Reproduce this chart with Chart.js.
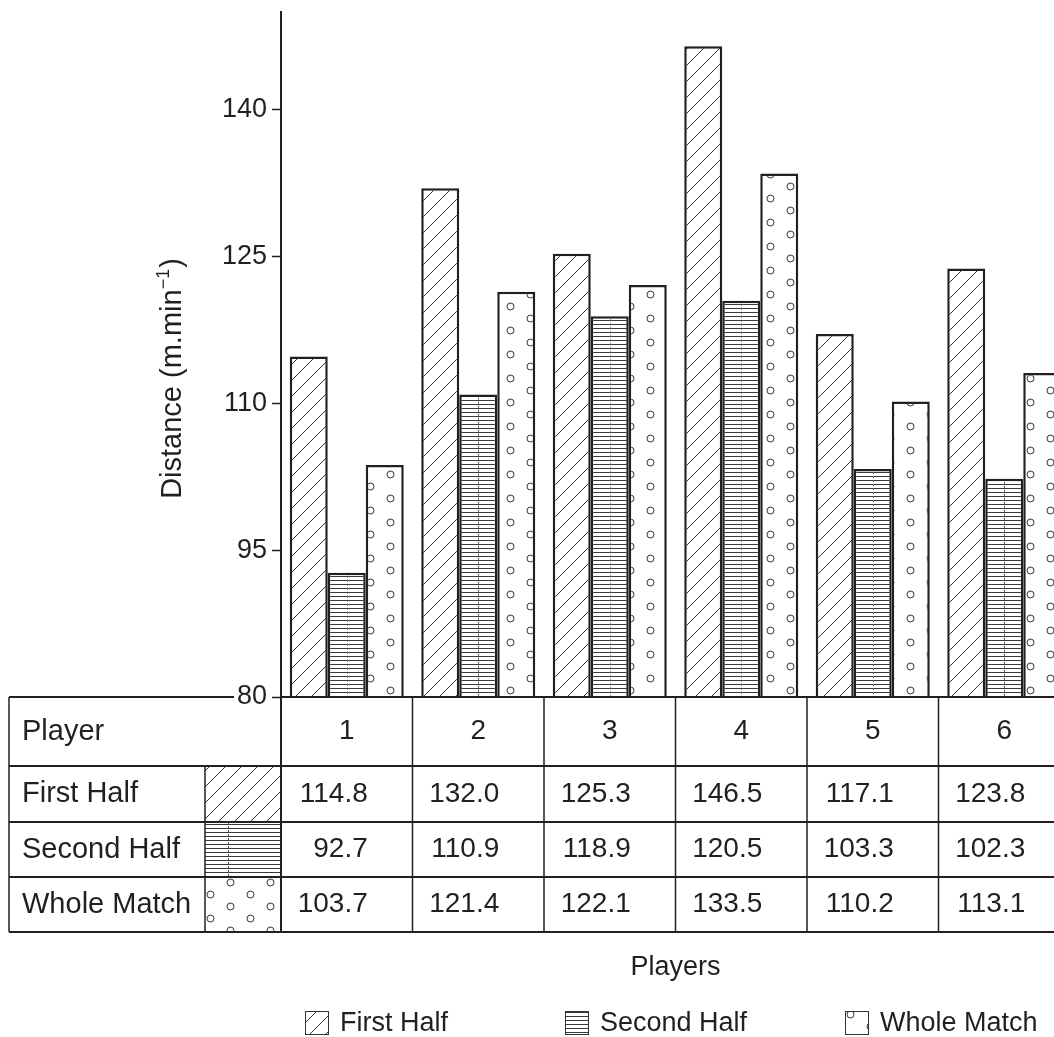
<!DOCTYPE html>
<html>
<head>
<meta charset="utf-8">
<script src="https://cdn.jsdelivr.net/npm/chart.js@4.4.0/dist/chart.umd.min.js"></script>
<style>
    html, body { margin: 0; padding: 0; background: #fff; overflow: hidden; }
    #wrap { width: 1070px; height: 1037px; }
</style>
</head>
<body>
<div id="wrap"><canvas id="distanceChart" width="1070" height="1037"></canvas></div>
<script>
const players = ['1', '2', '3', '4', '5', '6'];
const firstHalf = [114.8, 132.0, 125.3, 146.5, 117.1, 123.8];
const secondHalf = [92.7, 110.9, 118.9, 120.5, 103.3, 102.3];
const wholeMatch = [103.7, 121.4, 122.1, 133.5, 110.2, 113.1];
const seriesNames = ['First Half', 'Second Half', 'Whole Match'];
const yTicks = [80, 95, 110, 125, 140];

const INK = '#231f20';
const FONT = '"Liberation Sans", Arial, sans-serif';

// Build a repeating fill pattern for the bars
function makePattern(kind) {
    const c = document.createElement('canvas');
    const g = c.getContext('2d');
    if (kind === 'diag') {
        c.width = 16; c.height = 16;
        g.fillStyle = '#fff'; g.fillRect(0, 0, 16, 16);
        g.strokeStyle = '#333'; g.lineWidth = 1;
        g.beginPath();
        g.moveTo(-2, 18); g.lineTo(18, -2);
        g.moveTo(-2, 2); g.lineTo(2, -2);
        g.moveTo(14, 18); g.lineTo(18, 14);
        g.stroke();
    } else if (kind === 'horiz') {
        c.width = 8; c.height = 4;
        g.fillStyle = '#fff'; g.fillRect(0, 0, 8, 4);
        g.fillStyle = '#3a3a3a'; g.fillRect(0, 0, 8, 1);
    } else {
        c.width = 40; c.height = 24;
        g.fillStyle = '#fff'; g.fillRect(0, 0, 40, 24);
        g.strokeStyle = '#333'; g.lineWidth = 1;
        [[10, 6], [30, 18]].forEach(([px, py]) => {
            g.beginPath(); g.arc(px + 0.5, py + 0.5, 3.5, 0, Math.PI * 2); g.stroke();
        });
    }
    return g.createPattern(c, 'repeat');
}

const patterns = [makePattern('diag'), makePattern('horiz'), makePattern('dots')];

function line(ctx, x1, y1, x2, y2) {
    ctx.beginPath(); ctx.moveTo(x1, y1); ctx.lineTo(x2, y2); ctx.stroke();
}

// Draws the data table under the bars, the y title and the legend
const tablePlugin = {
    id: 'matchTable',
    afterDatasetsDraw(chart) {
        // dotted line down the middle of the "second half" bars
        const ctx = chart.ctx;
        const bottom = chart.chartArea.bottom;
        ctx.save();
        ctx.strokeStyle = '#555'; ctx.lineWidth = 1; ctx.setLineDash([2, 2]);
        chart.getDatasetMeta(1).data.forEach(bar => {
            const bx = Math.round(bar.x) + 0.5;
            line(ctx, bx, bar.y + 3, bx, Math.min(bar.base, bottom));
        });
        ctx.restore();
    },
    afterDraw(chart) {
        const { ctx, chartArea, scales: { x } } = chart;
        const top = chartArea.bottom;
        const rows = [top, top + 69, top + 125, top + 180, top + 235];
        const left = 9, swatchL = 205, axisX = chartArea.left, right = chart.width;
        const half = (x.getPixelForValue(1) - x.getPixelForValue(0)) / 2;
        const values = [firstHalf, secondHalf, wholeMatch];

        ctx.save();
        // swatches in table
        for (let i = 0; i < 3; i++) {
            ctx.fillStyle = patterns[i];
            ctx.fillRect(swatchL, rows[i + 1], axisX - swatchL, rows[i + 2] - rows[i + 1]);
        }
        ctx.save();
        ctx.strokeStyle = '#555'; ctx.lineWidth = 1; ctx.setLineDash([2, 2]);
        line(ctx, swatchL + 23.5, rows[2], swatchL + 23.5, rows[3]);
        ctx.restore();

        ctx.strokeStyle = INK;
        ctx.lineWidth = 2;
        line(ctx, left, rows[0], 234, rows[0]);
        line(ctx, axisX, rows[0], right, rows[0]);
        for (let r = 1; r < rows.length; r++) line(ctx, left, rows[r], right, rows[r]);

        ctx.lineWidth = 1.5;
        line(ctx, left, rows[0], left, rows[4]);
        line(ctx, swatchL, rows[1], swatchL, rows[4]);
        players.forEach((p, i) => {
            const edge = x.getPixelForValue(i) + half;
            line(ctx, edge, rows[0], edge, rows[4]);
        });
        ctx.lineWidth = 2;
        line(ctx, axisX, rows[0], axisX, rows[4]);

        // table text
        ctx.fillStyle = INK;
        ctx.font = '29px ' + FONT;
        ctx.textBaseline = 'middle';
        ctx.textAlign = 'left';
        ctx.fillText('Player', 22, (rows[0] + rows[1]) / 2);
        seriesNames.forEach((n, i) => ctx.fillText(n, 22, (rows[i + 1] + rows[i + 2]) / 2));
        ctx.font = '28px ' + FONT;
        ctx.textAlign = 'center';
        players.forEach((p, i) => ctx.fillText(p, x.getPixelForValue(i), (rows[0] + rows[1]) / 2));
        ctx.textAlign = 'right';
        values.forEach((arr, r) => {
            arr.forEach((v, i) => {
                ctx.fillText(v.toFixed(1), x.getPixelForValue(i) + 21, (rows[r + 1] + rows[r + 2]) / 2);
            });
        });

        // y axis title with superscript
        ctx.save();
        ctx.translate(170, 379);
        ctx.rotate(-Math.PI / 2);
        ctx.textAlign = 'left';
        ctx.textBaseline = 'alphabetic';
        const big = '29px ' + FONT, small = '18px ' + FONT;
        ctx.font = big;
        const w1 = ctx.measureText('Distance (m.min').width;
        const w3 = ctx.measureText(')').width;
        ctx.font = small;
        const w2 = ctx.measureText('\u22121').width;
        const tx = -(w1 + w2 + w3) / 2;
        ctx.font = big;
        ctx.fillText('Distance (m.min', tx, 11);
        ctx.font = small;
        ctx.fillText('\u22121', tx + w1, -1);
        ctx.font = big;
        ctx.fillText(')', tx + w1 + w2 + 1, 11);
        ctx.restore();

        // legend
        const legendX = [305, 565, 845];
        const ly = 1011, sw = 24;
        ctx.textAlign = 'left';
        ctx.textBaseline = 'middle';
        ctx.font = '27px ' + FONT;
        seriesNames.forEach((n, i) => {
            ctx.fillStyle = patterns[i];
            ctx.fillRect(legendX[i], ly, sw, sw);
            ctx.strokeStyle = '#333'; ctx.lineWidth = 1;
            ctx.strokeRect(legendX[i] + 0.5, ly + 0.5, sw - 1, sw - 1);
            ctx.fillStyle = INK;
            ctx.fillText(n, legendX[i] + 35, ly + sw / 2 + 1);
        });
        ctx.restore();
    }
};

const datasets = [firstHalf, secondHalf, wholeMatch].map((d, i) => ({
    label: seriesNames[i],
    data: d,
    backgroundColor: patterns[i],
    borderColor: INK,
    borderWidth: 2.5,
    categoryPercentage: 0.867,
    barPercentage: 1.0
}));

new Chart(document.getElementById('distanceChart'), {
    type: 'bar',
    data: { labels: players, datasets: datasets },
    options: {
        responsive: false,
        animation: false,
        layout: { padding: { top: 12, left: 0, right: 0, bottom: 0 } },
        plugins: {
            legend: { display: false },
            tooltip: { enabled: false }
        },
        scales: {
            x: {
                grid: { display: false },
                border: { display: false },
                ticks: { display: false },
                afterFit: s => { s.height = 340; },
                title: {
                    display: true,
                    text: 'Players',
                    color: INK,
                    font: { family: FONT, size: 27 },
                    padding: { top: 0, bottom: 53 }
                }
            },
            y: {
                min: 80,
                max: 150,
                afterBuildTicks: s => { s.ticks = yTicks.map(v => ({ value: v })); },
                afterFit: s => { s.width = 281; s.paddingTop = 0; s.paddingBottom = 0; },
                border: { display: true, color: INK, width: 2 },
                grid: { drawOnChartArea: false, drawTicks: true, tickLength: 9, tickColor: INK, tickWidth: 1.5 },
                ticks: { color: INK, font: { family: FONT, size: 27 }, padding: 5 }
            }
        }
    },
    plugins: [tablePlugin]
});
</script>
</body>
</html>
